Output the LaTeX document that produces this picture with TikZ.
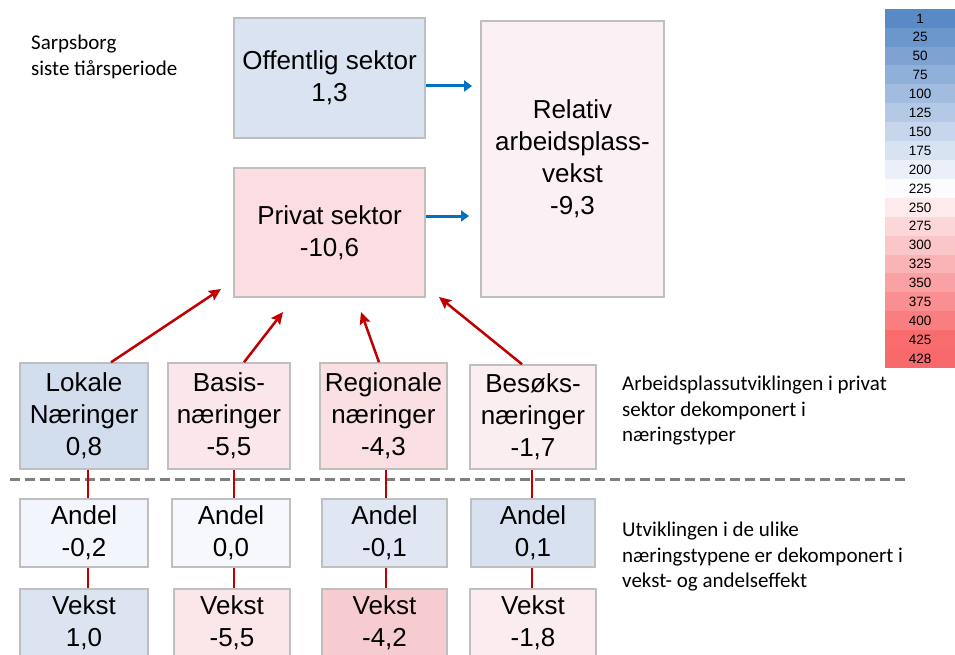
\documentclass[tikz,border=0pt]{standalone}
\usepackage{fontspec}
\setmainfont{Liberation Sans}
\newfontfamily\notefont{Carlito}
\usepackage{xcolor}
\usetikzlibrary{arrows.meta}
\definecolor{boxline}{RGB}{191,191,191}
\definecolor{pushblue}{RGB}{0,112,192}
\definecolor{upred}{RGB}{192,0,0}
\definecolor{cutgray}{RGB}{127,127,127}
\definecolor{scaleblue}{RGB}{90,138,198}
\definecolor{scalemid}{RGB}{252,252,255}
\definecolor{scalered}{RGB}{248,105,107}
\definecolor{offfill}{RGB}{218,227,241}
\definecolor{privfill}{RGB}{251,221,226}
\definecolor{relfill}{RGB}{251,240,244}

\begin{document}
\begin{tikzpicture}[x=1pt,y=-1pt]
    \tikzstyle{box}=[draw=boxline,line width=1.5pt,inner sep=0pt,align=center,text=black,font=\fontsize{26}{32}\selectfont]
    \tikzstyle{sidenote}=[anchor=west,align=left,inner sep=0pt,font=\notefont\fontsize{21}{25.5}\selectfont]
    \tikzstyle{scalecell}=[inner sep=0pt,minimum width=70,minimum height=19.3,font=\fontsize{13.5}{16}\selectfont]
    \tikzstyle{up}=[-{Stealth[length=12pt,width=11pt,inset=2pt]},draw=upred,line width=2.5pt]
    \tikzstyle{link}=[draw=upred,line width=2pt]
    \tikzstyle{push}=[-{Triangle[length=8pt,width=11pt]},draw=pushblue,line width=3pt]

    \useasboundingbox (0,0) rectangle (955,655);

    \node[sidenote] (place) at (31,57) {Sarpsborg\\siste tiårsperiode};

    \node[box,fill=offfill,minimum width=191,minimum height=120] (offentlig) at (329.5,78) {Offentlig sektor\\1,3};
    \node[box,fill=privfill,minimum width=191,minimum height=129] (privat) at (329.5,232.5) {Privat sektor\\-10,6};
    \node[box,fill=relfill,minimum width=183,minimum height=276] (relativ) at (572.5,159) {Relativ\\arbeidsplass-\\vekst\\-9,3};

    \coordinate (in1) at (472,86);
    \coordinate (in2) at (469,216);
    \draw[push] (in1 -| offentlig.east) -- (in1);
    \draw[push] (in2 -| privat.east) -- (in2);

    \begin{scope}
    \node[box,fill={rgb,255:red,210;green,221;blue,238},minimum width=128,minimum height=106] (lokale) at (84,416) {Lokale\\Næringer\\0,8};
    \node[box,fill={rgb,255:red,251;green,231;blue,235},minimum width=122,minimum height=106] (basis) at (229,416) {Basis-\\næringer\\-5,5};
    \node[box,fill={rgb,255:red,250;green,223;blue,227},minimum width=127,minimum height=106] (regionale) at (383.5,416) {Regionale\\næringer\\-4,3};
    \node[box,fill={rgb,255:red,251;green,238;blue,241},minimum width=126,minimum height=104] (besoks) at (533,417) {Besøks-\\næringer\\-1,7};
    \end{scope}

    \coordinate (tip1) at (221,289);
    \coordinate (tip2) at (283,312);
    \coordinate (tip3) at (361,312);
    \coordinate (tip4) at (439,297);
    \draw[up] ([xshift=27pt]lokale.north) -- (tip1);
    \draw[up] ([xshift=15pt]basis.north) -- (tip2);
    \draw[up] ([xshift=-4.5pt]regionale.north) -- (tip3);
    \draw[up] ([xshift=-11pt]besoks.north) -- (tip4);

    \draw[cutgray,line width=3pt,dash pattern=on 10pt off 5pt] (10,479) -- (907,479);

    \node[sidenote] (note1) at (622,411) {Arbeidsplassutviklingen i privat\\sektor dekomponert i\\næringstyper};
    \node[sidenote] (note2) at (622,557) {Utviklingen i de ulike\\næringstypene er dekomponert i\\vekst- og andelseffekt};

    \begin{scope}
    \node[box,fill={rgb,255:red,243;green,245;blue,252},minimum width=128,minimum height=68] (andelL) at (84,533) {Andel\\-0,2};
    \node[box,fill={rgb,255:red,247;green,248;blue,253},minimum width=118,minimum height=68] (andelB) at (231,533) {Andel\\0,0};
    \node[box,fill={rgb,255:red,224;green,231;blue,243},minimum width=125,minimum height=68] (andelR) at (384.5,533) {Andel\\-0,1};
    \node[box,fill={rgb,255:red,216;green,225;blue,240},minimum width=124,minimum height=68] (andelS) at (533,533) {Andel\\0,1};

    \node[box,fill={rgb,255:red,220;green,228;blue,242},minimum width=128,minimum height=68] (vekstL) at (84,623) {Vekst\\1,0};
    \node[box,fill={rgb,255:red,251;green,231;blue,234},minimum width=116,minimum height=68] (vekstB) at (232,623) {Vekst\\-5,5};
    \node[box,fill={rgb,255:red,247;green,204;blue,208},minimum width=125,minimum height=68] (vekstR) at (384.5,623) {Vekst\\-4,2};
    \node[box,fill={rgb,255:red,251;green,236;blue,239},minimum width=126,minimum height=68] (vekstS) at (533,623) {Vekst\\-1,8};
    \end{scope}

    \draw[link] ([xshift=4pt]lokale.south) -- ([xshift=4pt]lokale.south |- andelL.north);
    \draw[link] ([xshift=4pt]andelL.south) -- ([xshift=4pt]andelL.south |- vekstL.north);
    \draw[link] ([xshift=5pt]basis.south) -- ([xshift=5pt]basis.south |- andelB.north);
    \draw[link] ([xshift=3pt]andelB.south) -- ([xshift=3pt]andelB.south |- vekstB.north);
    \draw[link] ([xshift=2.5pt]regionale.south) -- ([xshift=2.5pt]regionale.south |- andelR.north);
    \draw[link] ([xshift=1.5pt]andelR.south) -- ([xshift=1.5pt]andelR.south |- vekstR.north);
    \draw[link] ([xshift=-1pt]besoks.south) -- ([xshift=-1pt]besoks.south |- andelS.north);
    \draw[link] ([xshift=-1pt]andelS.south) -- ([xshift=-1pt]andelS.south |- vekstS.north);

    \foreach \v/\c/\p [count=\i from 0] in {1/scaleblue/100,25/scaleblue/89,50/scaleblue/78,75/scaleblue/67,100/scaleblue/56,125/scaleblue/45,150/scaleblue/33,175/scaleblue/22,200/scaleblue/11,225/scaleblue/0,250/scalered/12,275/scalered/25,300/scalered/37,325/scalered/49,350/scalered/62,375/scalered/74,400/scalered/86,425/scalered/98,428/scalered/100}
        \node[scalecell,fill=\c!\p!scalemid] (cell\i) at (920,{18.45+18.9*\i}) {\v};

\end{tikzpicture}
\end{document}
